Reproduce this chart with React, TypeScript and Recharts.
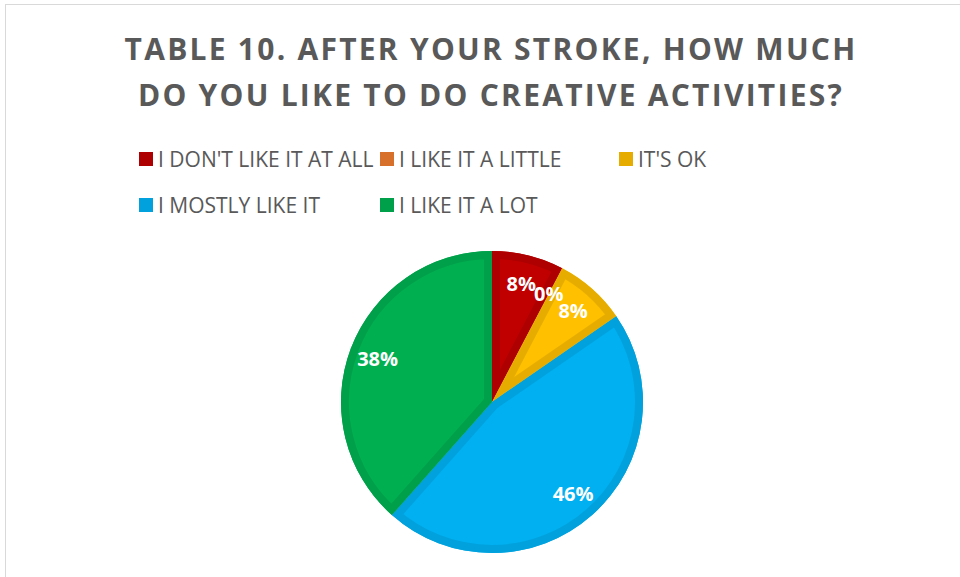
import React from "react";
import { PieChart, Pie, Cell, Legend } from "recharts";

const categories = [
  "I DON'T LIKE IT AT ALL",
  "I LIKE IT A LITTLE",
  "IT'S OK",
  "I MOSTLY LIKE IT",
  "I LIKE IT A LOT",
];
const responses = [1, 0, 1, 6, 5];
const fillColors = ["#C00000", "#ED7D31", "#FFC000", "#00B0F0", "#00B050"];
const edgeColors = ["#AE0000", "#D7702A", "#E6AD00", "#00A1DC", "#00A04A"];
const titleLines = [
  "TABLE 10. AFTER YOUR STROKE, HOW MUCH",
  "DO YOU LIKE TO DO CREATIVE ACTIVITIES?",
];

const data = categories.map((name, i) => ({ name, value: responses[i] }));

const RADIAN = Math.PI / 180;
const FONT = "'Open Sans', sans-serif";

const renderLabel = (props: any) => {
  const { cx, cy, midAngle, outerRadius, percent } = props;
  const r = outerRadius * 0.81;
  const x = cx + r * Math.cos(-midAngle * RADIAN);
  const y = cy + r * Math.sin(-midAngle * RADIAN);
  return (
    <text
      x={x}
      y={y}
      fill="#fff"
      textAnchor="middle"
      dominantBaseline="central"
      fontFamily={FONT}
      fontWeight="bold"
      fontSize={20}
    >
      {`${Math.round(percent * 100)}%`}
    </text>
  );
};

const legendCols = [241, 239, 120];

const LegendContent = () => (
  <div
    style={{
      display: "grid",
      gridTemplateColumns: legendCols.map((w) => `${w}px`).join(" "),
      rowGap: 22,
      fontFamily: FONT,
      fontSize: 21,
      color: "#595959",
      whiteSpace: "nowrap",
    }}
  >
    {categories.map((c, i) => (
      <div key={c} style={{ display: "flex", alignItems: "center", height: 24 }}>
        <span
          style={{
            width: 14,
            height: 14,
            background: edgeColors[i],
            marginRight: 5,
            flex: "none",
          }}
        />
        <span>{c}</span>
      </div>
    ))}
  </div>
);

export default function App() {
  return (
    <div
      style={{
        position: "fixed",
        left: 0,
        top: 0,
        width: 960,
        height: 577,
        overflow: "hidden",
        background: "#fff",
      }}
    >
      <div
        style={{
          position: "absolute",
          left: 5,
          top: 4,
          width: 1200,
          height: 800,
          border: "1px solid #d9d9d9",
        }}
      />
      <svg width={0} height={0} style={{ position: "absolute" }}>
        <defs>
          {categories.map((c, i) => (
            <clipPath key={c} id={`slice-clip-${i}`}>
              <use href={`#slice-${i}`} />
            </clipPath>
          ))}
        </defs>
      </svg>
      <div
        style={{
          position: "absolute",
          left: 0,
          top: 26,
          width: 982,
          textAlign: "center",
          fontFamily: FONT,
          fontWeight: "bold",
          fontSize: 30,
          letterSpacing: 2.25,
          lineHeight: "46px",
          color: "#595959",
        }}
      >
        {titleLines.map((t) => (
          <div key={t}>{t}</div>
        ))}
      </div>
      <div style={{ position: "absolute", left: 0, top: 0 }}>
        <PieChart width={960} height={577} margin={{ top: 0, right: 0, bottom: 0, left: 0 }}>
          <Legend
            content={<LegendContent />}
            wrapperStyle={{ position: "absolute", left: 139, top: 147, width: 640 }}
          />
          <Pie
            data={data}
            dataKey="value"
            nameKey="name"
            cx={492}
            cy={402}
            outerRadius={151}
            startAngle={90}
            endAngle={-270}
            isAnimationActive={false}
            stroke="none"
          >
            {data.map((d, i) => (
              <Cell key={d.name} id={`slice-${i}`} fill={fillColors[i]} stroke="none" />
            ))}
          </Pie>
          <Pie
            data={data}
            dataKey="value"
            nameKey="name"
            cx={492}
            cy={402}
            outerRadius={151}
            startAngle={90}
            endAngle={-270}
            isAnimationActive={false}
            labelLine={false}
            label={renderLabel}
          >
            {data.map((d, i) => (
              <Cell
                key={d.name}
                fill="none"
                stroke={edgeColors[i]}
                strokeWidth={16}
                clipPath={`url(#slice-clip-${i})`}
              />
            ))}
          </Pie>
        </PieChart>
      </div>
    </div>
  );
}
